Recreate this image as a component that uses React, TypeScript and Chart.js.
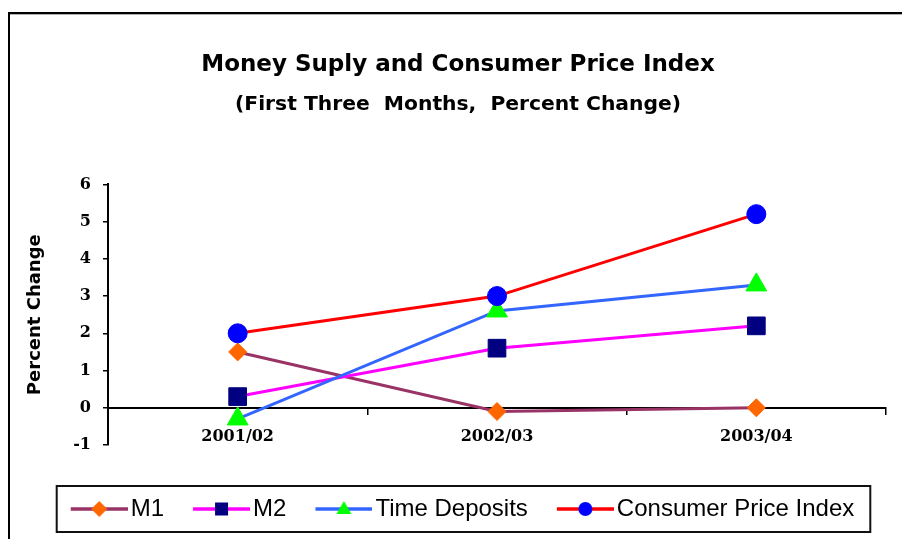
import React, { useEffect, useRef } from 'react';
import { Chart, registerables } from 'chart.js';

Chart.register(...registerables);

// ---- data ----
const categories = ['2001/02', '2002/03', '2003/04'];
const m1 = [1.5, -0.1, 0.0];
const m2 = [0.3, 1.6, 2.2];
const timeDeposits = [-0.3, 2.6, 3.3];
const cpi = [2.0, 3.0, 5.2];
const seriesNames = ['M1', 'M2', 'Time Deposits', 'Consumer Price Index'];
const yMin = -1;
const yMax = 6;
const yStep = 1;

const titleText = 'Money Suply and Consumer Price Index';
const subtitleText = '(First Three  Months,  Percent Change)';
const yAxisTitle = 'Percent Change';

// ---- styles ----
type Style = { line: string; marker: string; shape: string; radius: number };
const styles: Style[] = [
  { line: '#993366', marker: '#FF6600', shape: 'rectRot', radius: 9 },
  { line: '#FF00FF', marker: '#000080', shape: 'rect', radius: 12.5 },
  { line: '#3366FF', marker: '#00FF00', shape: 'triangle', radius: 12 },
  { line: '#FF0000', marker: '#0000FF', shape: 'circle', radius: 9.5 },
];

const ICON_W = 75;
const ICON_H = 24;
const BOX_W = 57;

function makeIcon(s: Style): HTMLCanvasElement {
  const c = document.createElement('canvas');
  c.width = ICON_W;
  c.height = ICON_H;
  const ctx = c.getContext('2d')!;
  const cy = ICON_H / 2;
  const x0 = 18;
  const x1 = ICON_W;
  ctx.strokeStyle = s.line;
  ctx.lineWidth = 3.5;
  ctx.beginPath();
  ctx.moveTo(x0, cy);
  ctx.lineTo(x1, cy);
  ctx.stroke();
  const cx = (x0 + x1) / 2;
  ctx.fillStyle = s.marker;
  ctx.beginPath();
  if (s.shape === 'rectRot') {
    const r = 8;
    ctx.moveTo(cx - r, cy);
    ctx.lineTo(cx, cy - r);
    ctx.lineTo(cx + r, cy);
    ctx.lineTo(cx, cy + r);
    ctx.closePath();
  } else if (s.shape === 'rect') {
    ctx.rect(cx - 6.5, cy - 6.5, 13, 13);
  } else if (s.shape === 'triangle') {
    ctx.moveTo(cx, cy - 8);
    ctx.lineTo(cx + 7.5, cy + 5);
    ctx.lineTo(cx - 7.5, cy + 5);
    ctx.closePath();
  } else {
    ctx.arc(cx, cy, 7, 0, Math.PI * 2);
  }
  ctx.fill();
  return c;
}

const framePlugin = {
  id: 'frame',
  beforeDraw(chart: any) {
    const ctx = chart.ctx;
    ctx.save();
    ctx.fillStyle = '#ffffff';
    ctx.fillRect(0, 0, chart.width, chart.height);
    ctx.strokeStyle = '#000000';
    ctx.lineWidth = 2;
    ctx.beginPath();
    ctx.moveTo(9, chart.height);
    ctx.lineTo(9, 13);
    ctx.lineTo(chart.width, 13);
    ctx.stroke();
    ctx.strokeStyle = '#b0b0b0';
    ctx.lineWidth = 1;
    ctx.beginPath();
    ctx.moveTo(10, 14.5);
    ctx.lineTo(chart.width, 14.5);
    ctx.stroke();
    ctx.restore();
  },
};

const legendBoxPlugin = {
  id: 'legendBox',
  afterDraw(chart: any) {
    const boxes = chart.legend && chart.legend.legendHitBoxes;
    if (!boxes || !boxes.length) return;
    const first = boxes[0];
    const last = boxes[boxes.length - 1];
    const left = first.left - 5;
    const right = last.left + last.width + 16;
    const cy = first.top + 12;
    const ctx = chart.ctx;
    ctx.save();
    ctx.strokeStyle = '#111111';
    ctx.lineWidth = 2;
    ctx.strokeRect(left, cy - 23, right - left, 46);
    ctx.restore();
  },
};

export default function App() {
  const ref = useRef<HTMLCanvasElement | null>(null);

  useEffect(() => {
    document.body.style.margin = '0';
    const canvas = ref.current!;
    const icons = styles.map(makeIcon);
    const series = [m1, m2, timeDeposits, cpi];

    const chart = new Chart(canvas, {
      type: 'line',
      data: {
        labels: categories,
        datasets: series.map((vals, i) => ({
          label: seriesNames[i],
          data: vals,
          borderColor: styles[i].line,
          backgroundColor: styles[i].marker,
          borderWidth: 3,
          tension: 0,
          pointStyle: styles[i].shape as any,
          pointRadius: styles[i].radius,
          pointHoverRadius: styles[i].radius,
          pointBackgroundColor: styles[i].marker,
          pointBorderColor: styles[i].marker,
          pointBorderWidth: 1,
          order: 4 - i,
        })),
      },
      options: {
        animation: false,
        responsive: true,
        maintainAspectRatio: false,
        devicePixelRatio: 1,
        events: [],
        layout: { padding: { left: 30, right: 16, top: 0, bottom: 8 } },
        plugins: {
          tooltip: { enabled: false },
          title: {
            display: true,
            text: titleText,
            color: '#000',
            font: { family: 'DejaVu Sans', size: 23, weight: 'bold' },
            padding: { top: 51, bottom: 0 },
          },
          subtitle: {
            display: true,
            text: subtitleText,
            color: '#000',
            font: { family: 'DejaVu Sans', size: 20.3, weight: 'bold' },
            padding: { top: 14.4, bottom: 67 },
          },
          legend: {
            display: true,
            position: 'bottom',
            align: 'center',
            title: {
              display: true,
              text: '',
              padding: { top: 20, bottom: 0 },
              font: { size: 12, lineHeight: 1 },
            },
            labels: {
              usePointStyle: true,
              pointStyleWidth: BOX_W,
              boxHeight: 24,
              padding: 20,
              color: '#000',
              font: { family: 'Liberation Sans', size: 24 },
              generateLabels: (ch: any) =>
                ch.data.datasets.map((ds: any, i: number) => ({
                  text: ds.label,
                  pointStyle: icons[i],
                  fillStyle: styles[i].marker,
                  strokeStyle: styles[i].line,
                  lineWidth: 0,
                  hidden: false,
                  datasetIndex: i,
                  fontColor: '#000',
                })),
            },
          },
        },
        scales: {
          x: {
            type: 'category',
            offset: true,
            position: { y: 0 } as any,
            grid: {
              offset: true,
              drawOnChartArea: false,
              drawTicks: true,
              tickLength: 6,
              color: '#000',
              lineWidth: 1.5,
            },
            border: { display: true, color: '#000', width: 2 },
            ticks: {
              color: '#000',
              padding: 13,
              maxRotation: 0,
              font: { family: 'DejaVu Serif', size: 16, weight: 'bold' },
            },
          },
          y: {
            type: 'linear',
            position: 'left',
            min: yMin,
            max: yMax,
            afterFit: (scale: any) => {
              scale.width = 78;
            },
            grid: {
              drawOnChartArea: false,
              drawTicks: true,
              tickLength: 5,
              color: '#000',
              lineWidth: 1.5,
            },
            border: { display: true, color: '#000', width: 2 },
            ticks: {
              stepSize: yStep,
              color: '#000',
              padding: 12,
              font: { family: 'DejaVu Serif', size: 16, weight: 'bold' },
            },
            title: {
              display: true,
              text: yAxisTitle,
              color: '#000',
              font: { family: 'DejaVu Sans', size: 18, weight: 'bold', lineHeight: 0.6 },
              padding: { top: 0, bottom: 0 },
            },
          },
        },
      },
      plugins: [framePlugin, legendBoxPlugin],
    } as any);

    return () => chart.destroy();
  }, []);

  return (
    <div style={{ position: 'fixed', left: 0, top: 0, width: 902, height: 539 }}>
      <canvas ref={ref} />
    </div>
  );
}
